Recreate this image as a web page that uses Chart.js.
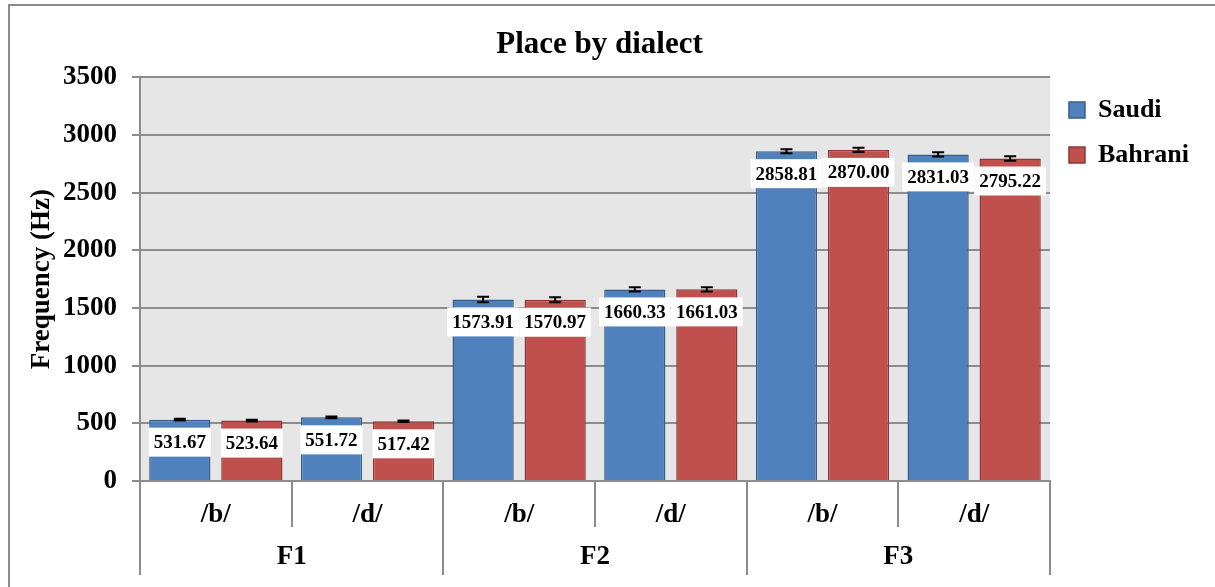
<!DOCTYPE html>
<html>
<head>
<meta charset="utf-8">
<title>Place by dialect</title>
<script src="https://cdn.jsdelivr.net/npm/chart.js@4.4.0/dist/chart.umd.min.js"></script>
<style>
  html, body { margin: 0; padding: 0; background: #fff; overflow: hidden; }
  #wrap { position: relative; width: 1215px; height: 587px; }
  #frame {
    position: absolute; left: 8px; top: 4px; width: 1300px; height: 700px;
    border-left: 2px solid #8c8c8c; border-top: 2px solid #8c8c8c;
  }
  canvas { position: absolute; left: 0; top: 0; }
</style>
</head>
<body>
<div id="wrap">
  <div id="frame"></div>
  <canvas id="chart" width="1215" height="587"></canvas>
</div>
<script>
// Mean formant frequency (Hz) by place of articulation and dialect
const sounds = ['/b/', '/d/', '/b/', '/d/', '/b/', '/d/'];
const formants = ['F1', 'F2', 'F3'];
const saudi = [531.67, 551.72, 1573.91, 1660.33, 2858.81, 2831.03];
const bahrani = [523.64, 517.42, 1570.97, 1661.03, 2870.00, 2795.22];
const saudiErr = [7, 7, 24, 18, 17, 18];
const bahraniErr = [7, 6, 22, 18, 19, 20];
const yMax = 3500;
const yStep = 500;

const serif = '"Liberation Serif", "Times New Roman", serif';
const lineGray = '#8c8c8c';

Chart.defaults.color = '#000';
Chart.defaults.font.family = serif;

// grey fill behind the plot
const plotBackground = {
    id: 'plotBackground',
    beforeDraw(chart) {
        const { ctx, chartArea: a } = chart;
        ctx.save();
        ctx.fillStyle = '#e6e6e6';
        ctx.fillRect(a.left, a.top, a.right - a.left, a.bottom - a.top);
        ctx.restore();
    }
};

// error bars, then the value boxes just inside each bar top
const barExtras = {
    id: 'barExtras',
    afterDatasetsDraw(chart) {
        const { ctx } = chart;
        const y = chart.scales.y;
        ctx.save();
        ctx.strokeStyle = '#000';
        ctx.lineWidth = 2;
        chart.data.datasets.forEach((ds, i) => {
            chart.getDatasetMeta(i).data.forEach((bar, j) => {
                const v = ds.data[j];
                const e = ds.errors[j];
                const top = y.getPixelForValue(v + e);
                const bot = y.getPixelForValue(v - e);
                ctx.beginPath();
                ctx.moveTo(bar.x, top);
                ctx.lineTo(bar.x, bot);
                ctx.moveTo(bar.x - 6, top);
                ctx.lineTo(bar.x + 6, top);
                ctx.moveTo(bar.x - 6, bot);
                ctx.lineTo(bar.x + 6, bot);
                ctx.stroke();
            });
        });

        ctx.font = 'bold 19px ' + serif;
        ctx.textAlign = 'center';
        ctx.textBaseline = 'middle';
        chart.data.datasets.forEach((ds, i) => {
            chart.getDatasetMeta(i).data.forEach((bar, j) => {
                const text = ds.data[j].toFixed(2);
                const w = ctx.measureText(text).width + 10;
                const cy = bar.y + 22.5;
                ctx.fillStyle = '#fff';
                ctx.fillRect(bar.x - w / 2, cy - 14.5, w, 29);
                ctx.fillStyle = '#000';
                ctx.fillText(text, bar.x, cy + 1);
            });
        });
        ctx.restore();
    }
};

new Chart(document.getElementById('chart'), {
    type: 'bar',
    data: {
        labels: sounds,
        datasets: [
            {
                label: 'Saudi',
                data: saudi,
                errors: saudiErr,
                backgroundColor: '#4f81bd',
                borderColor: '#385d8a',
                borderWidth: 1.5
            },
            {
                label: 'Bahrani',
                data: bahrani,
                errors: bahraniErr,
                backgroundColor: '#c0504d',
                borderColor: '#8c3836',
                borderWidth: 1.5
            }
        ]
    },
    options: {
        responsive: false,
        animation: false,
        categoryPercentage: 0.95,
        barPercentage: 0.85,
        layout: { padding: { left: 0, right: 16, top: 0, bottom: 12 } },
        plugins: {
            title: {
                display: true,
                text: 'Place by dialect',
                color: '#000',
                font: { size: 31, weight: 'bold', family: serif },
                padding: { top: 26, bottom: 14 }
            },
            legend: {
                position: 'right',
                align: 'start',
                // empty legend title only pushes the entries down level with the plot
                title: {
                    display: true,
                    text: '',
                    font: { size: 10 },
                    padding: { top: 66, bottom: 0 }
                },
                labels: {
                    boxWidth: 16,
                    boxHeight: 16,
                    padding: 19,
                    color: '#000',
                    font: { size: 26, weight: 'bold', family: serif }
                }
            },
            tooltip: { enabled: false }
        },
        scales: {
            y: {
                min: 0,
                max: yMax,
                ticks: {
                    stepSize: yStep,
                    padding: 15,
                    color: '#000',
                    font: { size: 27, weight: 'bold', family: serif },
                    callback: (v) => String(v)
                },
                grid: { color: lineGray, lineWidth: 2, tickLength: 8 },
                border: { color: lineGray, width: 2 },
                title: {
                    display: true,
                    text: 'Frequency (Hz)',
                    color: '#000',
                    font: { size: 27, weight: 'bold', family: serif },
                    padding: { top: 26, bottom: 0 }
                },
                afterFit(scale) { scale.width = 140; }
            },
            x: {
                type: 'category',
                position: 'bottom',
                weight: 0,
                offset: true,
                grid: {
                    offset: true,
                    drawOnChartArea: false,
                    tickLength: 46,
                    color: lineGray,
                    lineWidth: 2
                },
                border: { color: lineGray, width: 2 },
                ticks: {
                    padding: -28,
                    color: '#000',
                    maxRotation: 0,
                    font: { size: 27, weight: 'bold', family: serif }
                },
                afterFit(scale) { scale.height = 46; }
            },
            x2: {
                type: 'category',
                labels: formants,
                position: 'bottom',
                weight: 1,
                offset: true,
                grid: {
                    offset: true,
                    drawOnChartArea: false,
                    tickLength: 48,
                    color: lineGray,
                    lineWidth: 2
                },
                border: { display: false },
                ticks: {
                    padding: -34,
                    color: '#000',
                    maxRotation: 0,
                    font: { size: 27, weight: 'bold', family: serif }
                },
                afterFit(scale) { scale.height = 48; }
            }
        }
    },
    plugins: [plotBackground, barExtras]
});
</script>
</body>
</html>
